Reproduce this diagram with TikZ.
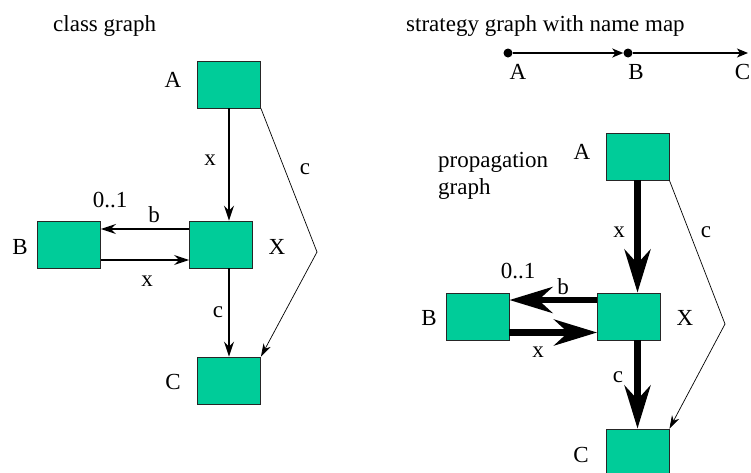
\documentclass[tikz,border=0pt]{standalone}
\usepackage{fontspec}
\setmainfont{Liberation Serif}
\usetikzlibrary{arrows.meta}

\definecolor{boxgreen}{RGB}{0,204,153}

\begin{document}
\begin{tikzpicture}[x=1pt, y=-1pt, font=\fontsize{23}{27}\selectfont]
  % styles
  \tikzset{
    cls/.style={rectangle, fill=boxgreen, draw=black!85, line width=0.9pt,
                minimum width=63pt, minimum height=47pt, inner sep=0pt},
    lbl/.style={inner sep=0pt},
    e/.style={draw=black, line width=1.5pt, -{Stealth[length=15pt, width=10pt, inset=5pt]}},
    thin/.style={draw=black, line width=0.7pt, -{Stealth[length=13pt, width=8pt, inset=4pt]}},
    prop/.style={draw=black, line width=6.5pt, -{Stealth[length=43pt, width=26pt, inset=14pt]}},
    dot/.style={circle, fill=black, inner sep=0pt, minimum size=9pt}
  }
  \useasboundingbox (0,0) rectangle (751,472);

  % class graph
  \node[lbl, anchor=base west] (cgtitle) at (53,31) {class graph};
  \node[cls] (cA) at (229,84.5) {};
  \node[cls] (cX) at (221,244.5) {};
  \node[cls] (cB) at (69,244.5) {};
  \node[cls] (cC) at (229,380.5) {};
  \coordinate (cbend) at (317,252);

  \draw[e] (cA.south) -- (cA.south |- cX.north);
  \draw[e] ([yshift=15.5pt]cX.west) -- ([yshift=15.5pt]cB.east);
  \draw[e] ([yshift=-15.5pt]cB.east) -- ([yshift=-15.5pt]cX.west);
  \draw[e] (cA.south |- cX.south) -- (cC.north);
  \draw[thin] (cA.south east) -- (cbend) -- (cC.north east);

  \node[lbl] (cAname) at (173,80) {A};
  \node[lbl] (cXname) at (277,247) {X};
  \node[lbl] (cBname) at (20,247) {B};
  \node[lbl] (cCname) at (173,382) {C};
  \node[lbl] (cx1) at (210,160) {x};
  \node[lbl] (cc1) at (305,169) {c};
  \node[lbl] (cmult) at (110,200) {0..1};
  \node[lbl] (cb) at (154,215) {b};
  \node[lbl] (cx2) at (147,281) {x};
  \node[lbl] (cc2) at (218,312) {c};

  % strategy graph
  \node[lbl, anchor=base west] (sgtitle) at (406,31) {strategy graph with name map};
  \node[dot] (sA) at (508,53) {};
  \node[dot] (sB) at (628,53) {};
  \coordinate (sC) at (748,53);
  \draw[e, -{Stealth[length=11pt, width=9pt, inset=3pt]}] (sA) -- (sB.west);
  \draw[e, -{Stealth[length=11pt, width=9pt, inset=3pt]}] (sB) -- (sC);
  \node[lbl] (sAname) at (518,72) {A};
  \node[lbl] (sBname) at (636,72) {B};
  \node[lbl] (sCname) at (742.5,72) {C};

  % propagation graph
  \node[lbl, anchor=base west, align=left] (pgtitle) at (438,194) {propagation\\graph};
  \node[cls] (pA) at (637.5,156.5) {};
  \node[cls] (pX) at (629,316.5) {};
  \node[cls] (pB) at (477.5,316.5) {};
  \node[cls] (pC) at (637.5,452.5) {};
  \coordinate (pbend) at (725,324);

  \draw[prop] (pA.south) -- (pA.south |- pX.north);
  \draw[prop] ([yshift=16.5pt]pX.west) -- ([yshift=16.5pt]pB.east);
  \draw[prop] ([yshift=-16pt]pB.east) -- ([yshift=-16pt]pX.west);
  \draw[prop] (pA.south |- pX.south) -- (pC.north);
  \draw[thin] (pA.south east) -- (pbend) -- (pC.north east);

  \node[lbl] (pAname) at (582,152) {A};
  \node[lbl] (pXname) at (685,318) {X};
  \node[lbl] (pBname) at (429,318) {B};
  \node[lbl] (pCname) at (581,455) {C};
  \node[lbl] (px1) at (619,232) {x};
  \node[lbl] (pc1) at (706,232) {c};
  \node[lbl] (pmult) at (518,271) {0..1};
  \node[lbl] (pb) at (563,287) {b};
  \node[lbl] (px2) at (538,352) {x};
  \node[lbl] (pc2) at (618,377) {c};
\end{tikzpicture}
\end{document}
